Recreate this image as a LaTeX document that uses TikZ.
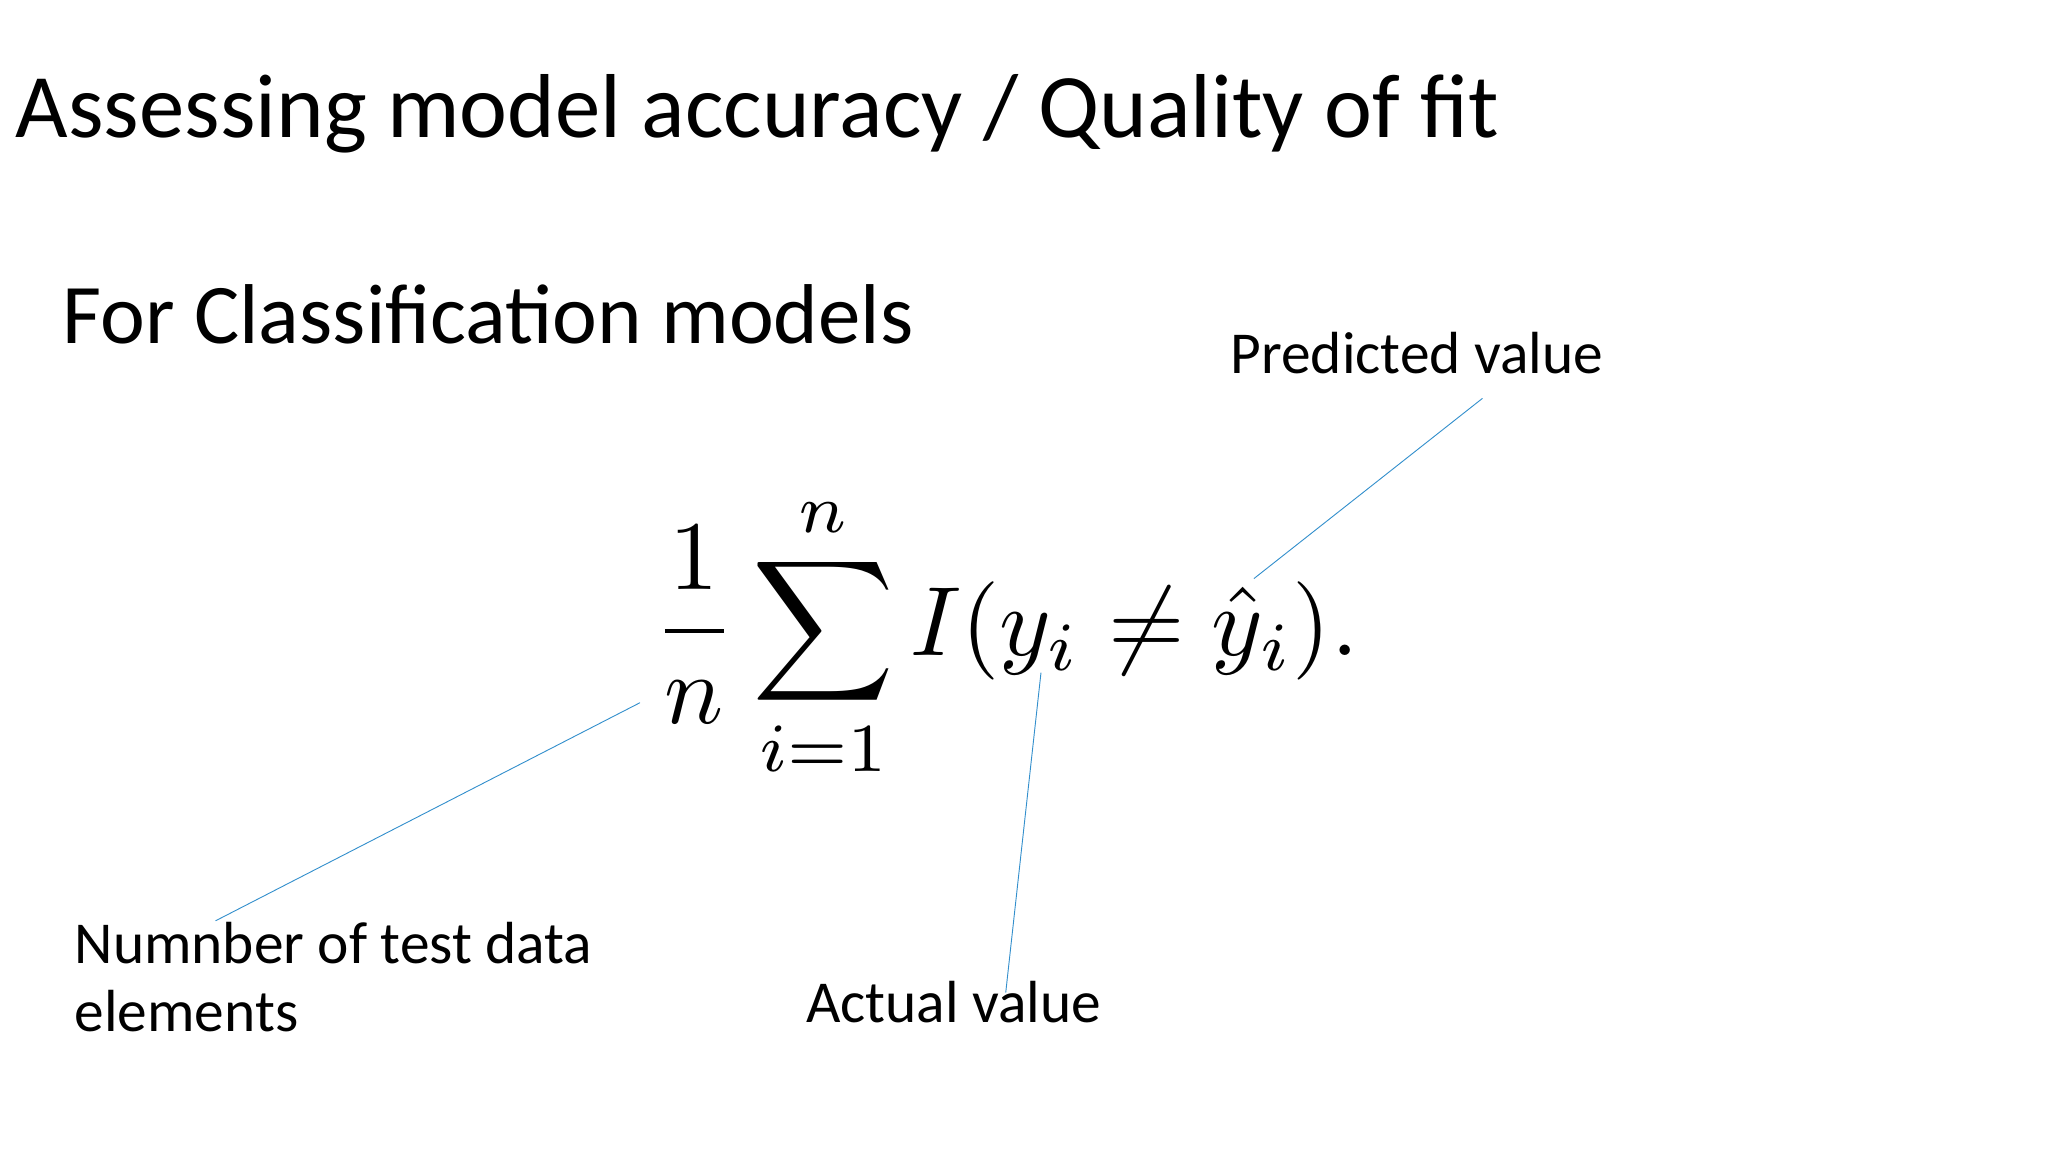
\documentclass[tikz,border=0pt]{standalone}
\usepackage{fontspec}
\setmainfont{Carlito}
\usepackage{amsmath}
\usepackage{graphicx}
\begin{document}
\begin{tikzpicture}[x=1pt,y=-1pt,
  txt/.style={inner sep=0pt,anchor=base west},
  lbl/.style={txt,font=\fontsize{45.5}{52}\selectfont},
  lead/.style={draw=blue!40!cyan!60!gray,line width=0.7pt}]
\useasboundingbox (0,0) rectangle (1568,882);
\node[txt,font=\fontsize{69.5}{80}\selectfont] (title) at (12,105) {Assessing model accuracy / Quality of fit};
\node[txt,font=\fontsize{65}{76}\selectfont] (sub) at (48,263) {For Classification models};
\node[lbl] (pred) at (942,286) {Predicted value};
\node[lbl] (num) at (57,738) {Numnber of test data};
\node[lbl] (num2) at (57,790) {elements};
\node[lbl] (act) at (617,783) {Actual value};
\node[inner sep=0pt,font=\normalsize] (f) at (770,488) {\resizebox{540pt}{!}{$\displaystyle \frac{1}{n}\sum_{i=1}^{n} I(y_i \neq \hat{y}_i).$}};
\coordinate (p1) at (1135,305); \coordinate (p2) at (960,443);
\coordinate (a1) at (797,515); \coordinate (a2) at (770,760);
\coordinate (n1) at (490,538); \coordinate (n2) at (165,705);
\draw[lead] (p1) -- (p2);
\draw[lead] (a1) -- (a2);
\draw[lead] (n1) -- (n2);
\end{tikzpicture}
\end{document}
